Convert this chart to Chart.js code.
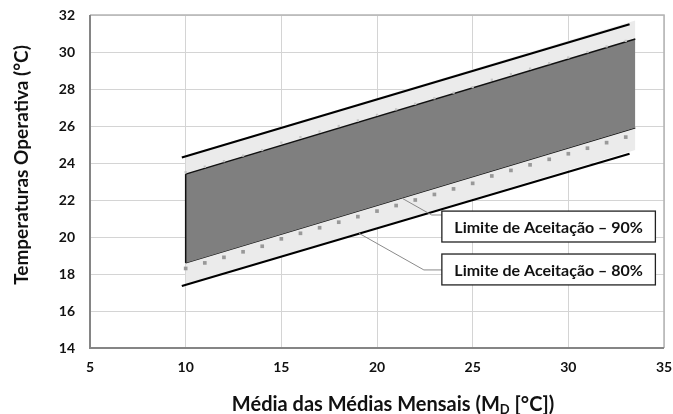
<!doctype html>
<html lang="pt">
<head>
<meta charset="utf-8">
<title>Limites de Aceitação</title>
<script src="https://cdn.jsdelivr.net/npm/chart.js"></script>
<style>
  html, body { margin: 0; padding: 0; background: #fff; }
  #wrap { width: 673px; height: 414px; }
</style>
</head>
<body>
<div id="wrap"><canvas id="myChart"></canvas></div>
<script>
// faixa de 80% (cinza claro)
const band80X = [10, 33.5];
const band80Upper = [24.4, 31.7];
const band80Lower = [17.4, 24.7];
// linhas pretas do limite de 80%
const line80X = [9.8, 33.2];
const line80Upper = [24.3, 31.5];
const line80Lower = [17.35, 24.5];
// faixa de 90% (cinza escuro)
const band90X = [10, 33.5];
const band90Upper = [23.4, 30.7];
const band90Lower = [18.6, 25.9];
// pontos quadrados ao longo dos limites de 90%
const dotX = [10, 11, 12, 13, 14, 15, 16, 17, 18, 19, 20, 21, 22, 23, 24, 25, 26, 27, 28, 29, 30, 31, 32, 33];
const dotLower = [18.3, 18.6, 18.9, 19.2, 19.5, 19.9, 20.2, 20.5, 20.8, 21.1, 21.4, 21.7, 22.0, 22.3, 22.6, 22.9, 23.3, 23.6, 23.9, 24.2, 24.5, 24.8, 25.1, 25.4];
const dotUpper = [23.5, 23.8, 24.1, 24.4, 24.7, 25.1, 25.4, 25.7, 26.0, 26.3, 26.6, 26.9, 27.2, 27.5, 27.8, 28.1, 28.5, 28.8, 29.1, 29.4, 29.7, 30.0, 30.3, 30.6];
// eixos
const xTicks = [5, 10, 15, 20, 25, 30, 35];
const yTicks = [14, 16, 18, 20, 22, 24, 26, 28, 30, 32];

const yTitle = 'Temperaturas Operativa (°C)';
const xTitle = ['Média das Médias Mensais (M', 'D', ' [°C])'];

// caixas de texto com linhas de chamada (coordenadas de dados)
const notes = [
  { text: 'Limite de Aceitação – 90%', from: [21.3, 22.1], bend: [22.86, 21.19], box: [23.39, 34.55, 21.4, 19.73] },
  { text: 'Limite de Aceitação – 80%', from: [19.06, 20.2], bend: [22.45, 18.22], box: [23.39, 34.55, 19.08, 17.41] }
];

function pts(xs, ys) {
  return xs.map((x, i) => ({ x: x, y: ys[i] }));
}

const FONT = 'Lato, "Open Sans", "DejaVu Sans", sans-serif';
Chart.defaults.font.family = FONT;
Chart.defaults.color = '#111';

const extras = {
  id: 'extras',
  afterDraw(chart) {
    const ctx = chart.ctx;
    const a = chart.chartArea;
    const xs = chart.scales.x, ys = chart.scales.y;
    ctx.save();

    // moldura da área do gráfico
    ctx.strokeStyle = '#b4b4b4';
    ctx.lineWidth = 1.5;
    ctx.beginPath();
    ctx.moveTo(a.left, a.top); ctx.lineTo(a.right, a.top); ctx.lineTo(a.right, a.bottom);
    ctx.stroke();
    ctx.strokeStyle = '#858585';
    ctx.lineWidth = 2;
    ctx.beginPath();
    ctx.moveTo(a.left, a.top); ctx.lineTo(a.left, a.bottom); ctx.lineTo(a.right, a.bottom);
    ctx.stroke();

    // chamadas
    notes.forEach(n => {
      const bx0 = xs.getPixelForValue(n.box[0]);
      const bx1 = xs.getPixelForValue(n.box[1]);
      const by0 = ys.getPixelForValue(n.box[2]);
      const by1 = ys.getPixelForValue(n.box[3]);
      const byb = ys.getPixelForValue(n.bend[1]);
      ctx.strokeStyle = '#8a8a8a';
      ctx.lineWidth = 1;
      ctx.beginPath();
      ctx.moveTo(xs.getPixelForValue(n.from[0]), ys.getPixelForValue(n.from[1]));
      ctx.lineTo(xs.getPixelForValue(n.bend[0]), byb);
      ctx.lineTo(bx0, byb);
      ctx.stroke();

      ctx.fillStyle = '#fff';
      ctx.fillRect(bx0, by0, bx1 - bx0, by1 - by0);
      ctx.strokeStyle = '#222';
      ctx.lineWidth = 1.3;
      ctx.strokeRect(bx0, by0, bx1 - bx0, by1 - by0);

      ctx.fillStyle = '#111';
      ctx.font = 'bold 16px ' + FONT;
      ctx.textAlign = 'center';
      ctx.textBaseline = 'middle';
      ctx.fillText(n.text, (bx0 + bx1) / 2, (by0 + by1) / 2 + 1);
    });

    // título do eixo y
    ctx.fillStyle = '#111';
    ctx.translate(22, 165);
    ctx.rotate(-Math.PI / 2);
    ctx.font = 'bold 19px ' + FONT;
    ctx.textAlign = 'center';
    ctx.textBaseline = 'middle';
    ctx.fillText(yTitle, 0, 0);
    ctx.setTransform(1, 0, 0, 1, 0, 0);

    // título do eixo x com subscrito
    const big = 'bold 20px ' + FONT, small = 'bold 13px ' + FONT;
    ctx.font = big; const w0 = ctx.measureText(xTitle[0]).width;
    ctx.font = small; const w1 = ctx.measureText(xTitle[1]).width;
    ctx.font = big; const w2 = ctx.measureText(xTitle[2]).width;
    let x = 393 - (w0 + w1 + w2) / 2;
    const base = 411;
    ctx.textAlign = 'left';
    ctx.textBaseline = 'alphabetic';
    ctx.font = big; ctx.fillText(xTitle[0], x, base); x += w0;
    ctx.font = small; ctx.fillText(xTitle[1], x, base + 3); x += w1;
    ctx.font = big; ctx.fillText(xTitle[2], x, base);
    ctx.restore();
  }
};

const ctx = document.getElementById('myChart');
const myChart = new Chart(ctx, {
  type: 'scatter',
  data: {
    datasets: [
      { data: pts(band80X, band80Upper), showLine: true, fill: '+1', backgroundColor: '#ebebeb', borderWidth: 0, pointRadius: 0, order: 10 },
      { data: pts(band80X, band80Lower), showLine: true, fill: false, borderWidth: 0, pointRadius: 0, order: 10 },
      { data: pts(band90X, band90Upper), showLine: true, fill: '+1', backgroundColor: '#7f7f7f', borderColor: '#111', borderWidth: 1.5, pointRadius: 0, order: 8 },
      { data: pts(band90X, band90Lower), showLine: true, fill: false, borderColor: '#111', borderWidth: 1.5, pointRadius: 0, order: 8 },
      { data: [{ x: band90X[0], y: band90Lower[0] }, { x: band90X[0], y: band90Upper[0] }], showLine: true, fill: false, borderColor: '#111', borderWidth: 1.5, pointRadius: 0, order: 7 },
      { data: pts(dotX, dotUpper), showLine: false, pointStyle: 'rect', pointRadius: 1.6, backgroundColor: '#c4c4c4', borderWidth: 0, order: 5 },
      { data: pts(dotX, dotLower), showLine: false, pointStyle: 'rect', pointRadius: 2.6, backgroundColor: '#999', borderWidth: 0, order: 5 },
      { data: pts(line80X, line80Upper), showLine: true, fill: false, borderColor: '#000', borderWidth: 2.2, pointRadius: 0, order: 1 },
      { data: pts(line80X, line80Lower), showLine: true, fill: false, borderColor: '#000', borderWidth: 2.2, pointRadius: 0, order: 1 }
    ]
  },
  plugins: [extras],
  options: {
    responsive: true,
    maintainAspectRatio: false,
    animation: false,
    events: [],
    layout: { padding: { top: 15, right: 9, left: 0, bottom: 0 } },
    plugins: { legend: { display: false }, tooltip: { enabled: false } },
    scales: {
      x: {
        type: 'linear',
        min: xTicks[0],
        max: xTicks[xTicks.length - 1],
        afterBuildTicks: s => { s.ticks = xTicks.map(v => ({ value: v })); },
        afterFit: s => { s.height = 66; s.paddingLeft = 0; s.paddingRight = 0; },
        ticks: { font: { size: 14, weight: 'bold' }, padding: 11, color: '#111' },
        grid: { color: '#d4d4d4', lineWidth: 1, drawTicks: false },
        border: { display: false }
      },
      y: {
        min: yTicks[0],
        max: yTicks[yTicks.length - 1],
        afterBuildTicks: s => { s.ticks = yTicks.map(v => ({ value: v })); },
        afterFit: s => { s.width = 90; s.paddingTop = 0; s.paddingBottom = 0; },
        ticks: { font: { size: 14, weight: 'bold' }, padding: 15, color: '#111' },
        grid: { color: '#d4d4d4', lineWidth: 1, drawTicks: false },
        border: { display: false }
      }
    }
  }
});
</script>
</body>
</html>
